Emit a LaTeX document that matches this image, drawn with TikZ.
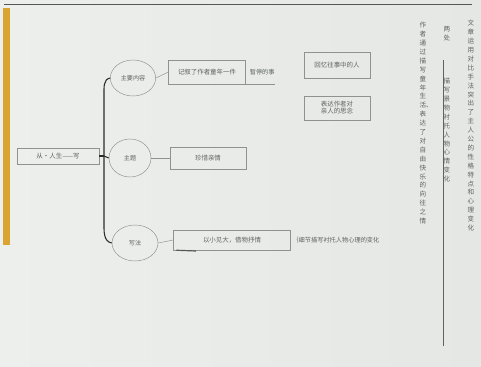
\documentclass[tikz,border=0pt]{standalone}
\usepackage{fontspec}
\newfontfamily\cjk{Noto Sans CJK SC}
\XeTeXlinebreaklocale "zh"
\XeTeXlinebreakskip=0pt plus 1pt
\usepackage{tikz}
\usetikzlibrary{arrows.meta,positioning,shapes.geometric}
\definecolor{paperA}{HTML}{EDEFEC}
\definecolor{paperB}{HTML}{E4E7E4}
\definecolor{pencil}{HTML}{8E9390}
\definecolor{pencilDark}{HTML}{5E6360}
\definecolor{ink}{HTML}{2A2C2B}
\definecolor{tape}{HTML}{D9A530}
\tikzset{
    topicbox/.style={rectangle,draw=pencil,line width=0.4pt,inner sep=1pt,font=\cjk\fontsize{5.5}{6}\selectfont,text=pencilDark},
    bubble/.style={ellipse,draw=pencil,line width=0.4pt,inner sep=0pt,font=\cjk\fontsize{5.2}{6}\selectfont,text=pencilDark},
    scribble/.style={inner sep=0pt,font=\cjk\fontsize{5.3}{6}\selectfont,text=pencilDark},
    column/.style={inner sep=0pt,text width=0.2cm,align=center,font=\cjk\fontsize{5.6}{7.6}\selectfont,text=pencilDark,anchor=north},
    branch/.style={draw=ink,line width=0.9pt},
    twig/.style={draw=pencil,line width=0.4pt}
}

\begin{document}
\begin{tikzpicture}[x=0.03cm,y=-0.03cm]

    % Paper
    \shade[left color=paperA,right color=paperB] (0,0) rectangle (481,366);
    \useasboundingbox (0,0) rectangle (481,366);
    \fill[tape] (3,8) rectangle (10,245);
    \draw[ink!80,line width=1.2pt] (4,4.5) -- (472,4.5);

    % Nodes
    \node[topicbox,minimum width=2.46cm,minimum height=0.48cm] (root) at (58,156) {从·人生——写};
    \node[bubble,minimum width=1.36cm,minimum height=1.08cm] (inhalt) at (133,78) {主要内容};
    \node[bubble,minimum width=1.26cm,minimum height=1.14cm] (thema) at (130,158) {主题};
    \node[bubble,minimum width=1.38cm,minimum height=1.08cm] (schreib) at (135,243) {写法};

    \node[topicbox,minimum width=2.3cm,minimum height=0.72cm] (inhaltA) at (207,72) {记叙了作者童年一件};
    \node[scribble,right=0.12cm of inhaltA] (inhaltB) {暂停的事};
    \node[topicbox,minimum width=1.98cm,minimum height=0.78cm] (inhaltC) at (337,65) {回忆往事中的人};
    \node[topicbox,minimum width=1.98cm,minimum height=0.72cm,align=left] (inhaltD) at (337,108) {表达作者对\\亲人的思念};

    \node[topicbox,minimum width=2.28cm,minimum height=0.66cm] (themaA) at (208,158) {珍惜亲情};

    \node[topicbox,minimum width=3.5cm,minimum height=0.6cm] (schreibA) at (232,240) {以小见大，借物抒情};
    \node[scribble,right=0.05cm of schreibA] (schreibB) {｛细节描写衬托人物心理的变化};
    \coordinate (strich) at (196,251);

    % right margin notes
    \node[column] (notizA) at (423,22) {作者通过描写童年生活、表达了对自由快乐的向往之情};
    \node[column] (notizB) at (447,26) {两处};
    \node[column] (notizC) at (447,78) {描写景物衬托人物心情变化};
    \node[column] (notizD) at (471,20) {文章运用对比手法突出了主人公的性格特点和心理变化};
    \coordinate (randO) at (443,60);
    \coordinate (randU) at (443,346);

    % Connectors
    \coordinate (knoten) at (104,156);
    \draw[branch] (inhalt.west) to[out=190,in=90] (104,95) -- (knoten)
        -- (104,222) to[out=-90,in=170] (schreib.west);
    \draw[branch,line width=2pt] (root.east) -- (knoten);
    \draw[branch] (knoten) -- (thema.west);
    \draw[twig] (inhalt.east) -- (inhaltA.west);
    \draw[twig] (thema.east) -- (themaA.west);
    \draw[twig] (schreib.east) -- (schreibA.west);
    \draw[twig] (inhaltA.south west) -- (inhaltB.south east |- inhaltA.south);
    \draw[ink!80,line width=1pt] (schreibA.south west) ++(3,0) -- (strich);
    \draw[pencilDark,line width=0.6pt] (randO) -- (randU);

\end{tikzpicture}
\end{document}
